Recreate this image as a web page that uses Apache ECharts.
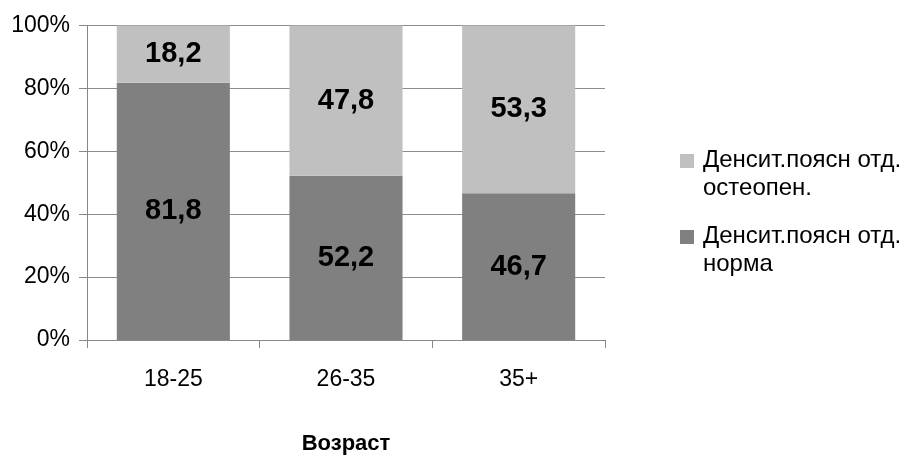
<!DOCTYPE html>
<html>
<head>
<meta charset="utf-8">
<script src="https://cdn.jsdelivr.net/npm/echarts@6/dist/echarts.min.js"></script>
<style>
  html, body { margin: 0; padding: 0; background: #fff; }
  #chart { width: 911px; height: 456px; }
</style>
</head>
<body>
<div id="chart"></div>
<script>
// Age groups along the category axis
const ageGroups = ['18-25', '26-35', '35+'];
// Share (%) with normal lumbar density
const normaValues = [81.8, 52.2, 46.7];
// Share (%) with lumbar osteopenia
const osteopenValues = [18.2, 47.8, 53.3];
// Percent axis ticks
const yTicks = [0, 20, 40, 60, 80, 100];

const seriesNorma = 'Денсит.поясн отд.\nнорма';
const seriesOsteo = 'Денсит.поясн отд.\nостеопен.';

const FONT = '"Liberation Sans", Arial, sans-serif';

// Legend marker: square aligned with the first text line of a two-line label
const legendIcon = 'path://M0,0H0.01V0.01H0Z M0,8H14V22H0Z M0,56H0.01V56.01H0Z';

const fmt = p => String(p.value).replace('.', ',');

const chart = echarts.init(document.getElementById('chart'), null, { renderer: 'canvas' });
chart.setOption({
  animation: false,
  backgroundColor: '#ffffff',
  textStyle: { fontFamily: FONT },
  grid: { left: 87, right: 306, top: 25.5, bottom: 116, containLabel: false, outerBoundsMode: 'none' },
  legend: {
    left: 680,
    top: 146,
    padding: 0,
    orient: 'vertical',
    itemGap: 20,
    itemWidth: 14,
    itemHeight: 56,
    icon: legendIcon,
    data: [seriesOsteo, seriesNorma],
    textStyle: { fontFamily: FONT, fontSize: 24, color: '#000', lineHeight: 28, padding: [0, 0, 0, 4] }
  },
  xAxis: {
    type: 'category',
    data: ageGroups,
    name: 'Возраст',
    nameLocation: 'middle',
    nameGap: 93,
    nameTextStyle: { fontFamily: FONT, fontSize: 22, fontWeight: 'bold', color: '#000' },
    axisLine: { lineStyle: { color: '#888', width: 1 } },
    axisTick: { show: true, length: 8, lineStyle: { color: '#888' } },
    axisLabel: { fontFamily: FONT, fontSize: 23, color: '#000', margin: 28 },
    splitLine: { show: false }
  },
  yAxis: {
    type: 'value',
    min: yTicks[0],
    max: yTicks[yTicks.length - 1],
    interval: yTicks[1] - yTicks[0],
    axisLine: { show: true, lineStyle: { color: '#888', width: 1 } },
    axisTick: { show: true, length: 8, lineStyle: { color: '#888' } },
    axisLabel: { fontFamily: FONT, fontSize: 23, color: '#000', margin: 17, formatter: v => v + '%' },
    splitLine: { show: true, lineStyle: { color: '#8c8c8c', width: 1 } }
  },
  series: [
    {
      name: seriesNorma,
      type: 'bar',
      stack: 'total',
      data: normaValues,
      barCategoryGap: '34.5%',
      itemStyle: { color: '#808080' },
      label: { show: true, position: 'inside', formatter: fmt, fontFamily: FONT, fontSize: 29, fontWeight: 'bold', color: '#000' }
    },
    {
      name: seriesOsteo,
      type: 'bar',
      stack: 'total',
      data: osteopenValues,
      barCategoryGap: '34.5%',
      itemStyle: { color: '#c0c0c0' },
      label: { show: true, position: 'inside', formatter: fmt, fontFamily: FONT, fontSize: 29, fontWeight: 'bold', color: '#000' }
    }
  ]
});
</script>
</body>
</html>
